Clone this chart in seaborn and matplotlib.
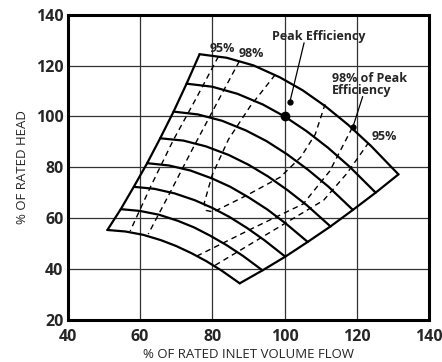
import matplotlib
matplotlib.use("Agg")
import matplotlib.pyplot as plt
import seaborn as sns

# ---- speed curves (solid) ----
spd105_x = [76.5, 84.0, 91.4, 98.7, 105.0, 111.3, 117.6, 123.9, 131.5]
spd105_y = [124.5, 123.1, 120.1, 115.4, 110.3, 104.0, 96.7, 88.4, 77.2]
spd100_x = [72.9, 80.0, 87.0, 94.0, 100.0, 106.0, 112.0, 118.0, 125.2]
spd100_y = [112.9, 111.7, 108.9, 104.7, 100.0, 94.3, 87.7, 80.2, 70.0]
spd95_x = [69.3, 76.0, 82.7, 89.3, 95.0, 100.7, 106.4, 112.1, 118.9]
spd95_y = [101.9, 100.8, 98.3, 94.5, 90.3, 85.1, 79.1, 72.4, 63.2]
spd90_x = [65.6, 72.0, 78.3, 84.6, 90.0, 95.4, 100.8, 106.2, 112.7]
spd90_y = [91.4, 90.5, 88.2, 84.8, 81.0, 76.4, 71.0, 65.0, 56.7]
spd85_x = [62.0, 68.0, 74.0, 79.9, 85.0, 90.1, 95.2, 100.3, 106.4]
spd85_y = [81.6, 80.7, 78.7, 75.6, 72.3, 68.1, 63.4, 57.9, 50.6]
spd80_x = [58.3, 64.0, 69.6, 75.2, 80.0, 84.8, 89.6, 94.4, 100.2]
spd80_y = [72.3, 71.5, 69.7, 67.0, 64.0, 60.4, 56.1, 51.3, 44.8]
spd75_x = [54.7, 60.0, 65.3, 70.5, 75.0, 79.5, 84.0, 88.5, 93.9]
spd75_y = [63.5, 62.8, 61.3, 58.9, 56.3, 53.0, 49.3, 45.1, 39.4]
spd70_x = [51.0, 56.0, 60.9, 65.8, 70.0, 74.2, 78.4, 82.6, 87.6]
spd70_y = [55.3, 54.7, 53.4, 51.3, 49.0, 46.2, 43.0, 39.3, 34.3]

# ---- efficiency contours (dashed) ----
eff95_left_x = [81.7, 75.5, 69.2, 63.0, 57.3]
eff95_left_y = [123.6, 107.0, 90.6, 72.5, 54.9]
eff95_right_x = [80.8, 95.8, 110.8, 117.2, 123.2]
eff95_right_y = [41.4, 54.2, 67.0, 77.5, 89.6]
eff98_left_x = [87.5, 81.0, 74.8, 68.5, 62.3]
eff98_left_y = [121.8, 104.5, 87.9, 70.5, 53.7]
eff98_right_x = [75.7, 90.5, 105.2, 112.5, 118.8]
eff98_right_y = [45.0, 55.5, 65.6, 78.5, 95.8]
effin_x = [97.4, 90.5, 84.5, 80.0, 77.8, 78.3, 80.3, 89.5, 98.8, 104.5, 108.5, 111.2]
effin_y = [116.4, 104.0, 91.0, 77.0, 66.0, 63.0, 62.4, 68.9, 76.1, 84.0, 93.0, 104.8]

# ---- marked points ----
peak_pt = (100.0, 100.0)
peak_label_pt = (101.5, 105.5)
pct98_pt = (118.8, 95.8)

x_ticks = [40, 60, 80, 100, 120, 140]
y_ticks = [20, 40, 60, 80, 100, 120, 140]

sns.set_style("white")
plt.rcParams['font.family'] = ['Open Sans', 'DejaVu Sans']

fig = plt.figure(figsize=(4.42, 3.62), dpi=100)
ax = fig.add_axes([0.153, 0.117, 0.818, 0.842])

speed_curves = [(spd105_x, spd105_y), (spd100_x, spd100_y), (spd95_x, spd95_y),
                (spd90_x, spd90_y), (spd85_x, spd85_y), (spd80_x, spd80_y),
                (spd75_x, spd75_y), (spd70_x, spd70_y)]

for cx, cy in speed_curves:
    sns.lineplot(x=cx, y=cy, sort=False, color="black", linewidth=1.6, ax=ax,
                 estimator=None)

# surge line (left ends) and choke line (right ends)
surge_x = [c[0][0] for c in speed_curves]
surge_y = [c[1][0] for c in speed_curves]
choke_x = [c[0][-1] for c in speed_curves]
choke_y = [c[1][-1] for c in speed_curves]
sns.lineplot(x=surge_x, y=surge_y, sort=False, color="black", linewidth=1.6, ax=ax, estimator=None)
sns.lineplot(x=choke_x, y=choke_y, sort=False, color="black", linewidth=1.6, ax=ax, estimator=None)

for ex, ey in [(eff95_left_x, eff95_left_y), (eff95_right_x, eff95_right_y),
               (eff98_left_x, eff98_left_y), (eff98_right_x, eff98_right_y),
               (effin_x, effin_y)]:
    sns.lineplot(x=ex, y=ey, sort=False, color="black", linewidth=1.0, ax=ax,
                 estimator=None, linestyle=(0, (4, 3)))

ax.plot(*peak_pt, 'o', color='black', markersize=6)
ax.plot(*peak_label_pt, 'o', color='black', markersize=3.5)
ax.plot(*pct98_pt, 'o', color='black', markersize=3.5)

# leader lines
ax.plot([105.4, 101.6], [129.0, 106.5], color='black', linewidth=0.9)
ax.plot([121.6, 119.0], [107.8, 96.3], color='black', linewidth=0.9)

tfont = dict(fontsize=9, fontweight='bold')
ax.text(96.5, 131.6, "Peak Efficiency", va='center', ha='left', **tfont)
ax.text(113.0, 112.6, "98% of Peak\nEfficiency", va='center', ha='left',
        linespacing=0.92, **tfont)
ax.text(124.0, 92.1, "95%", va='center', ha='left', **tfont)
ax.text(79.2, 126.6, "95%", va='center', ha='left', **tfont)
ax.text(87.3, 124.9, "98%", va='center', ha='left', **tfont)

ax.set_xlim(40, 140)
ax.set_ylim(20, 140)
ax.set_xticks(x_ticks)
ax.set_yticks(y_ticks)
ax.set_xticklabels([str(t) for t in x_ticks], fontsize=11.5, fontweight='bold')
ax.set_yticklabels([str(t) for t in y_ticks], fontsize=11.5, fontweight='bold')
ax.tick_params(axis='x', length=0, pad=7)
ax.tick_params(axis='y', length=0, pad=3)
ax.grid(True, color='#333333', linewidth=0.9)
for s in ax.spines.values():
    s.set_linewidth(2.2)
    s.set_color('black')
ax.set_xlabel("% OF RATED INLET VOLUME FLOW", fontsize=9.5, fontweight='medium', labelpad=2)
ax.set_ylabel("% OF RATED HEAD", fontsize=9.5, fontweight='medium', labelpad=5)

fig.savefig("out.png", dpi=100)
